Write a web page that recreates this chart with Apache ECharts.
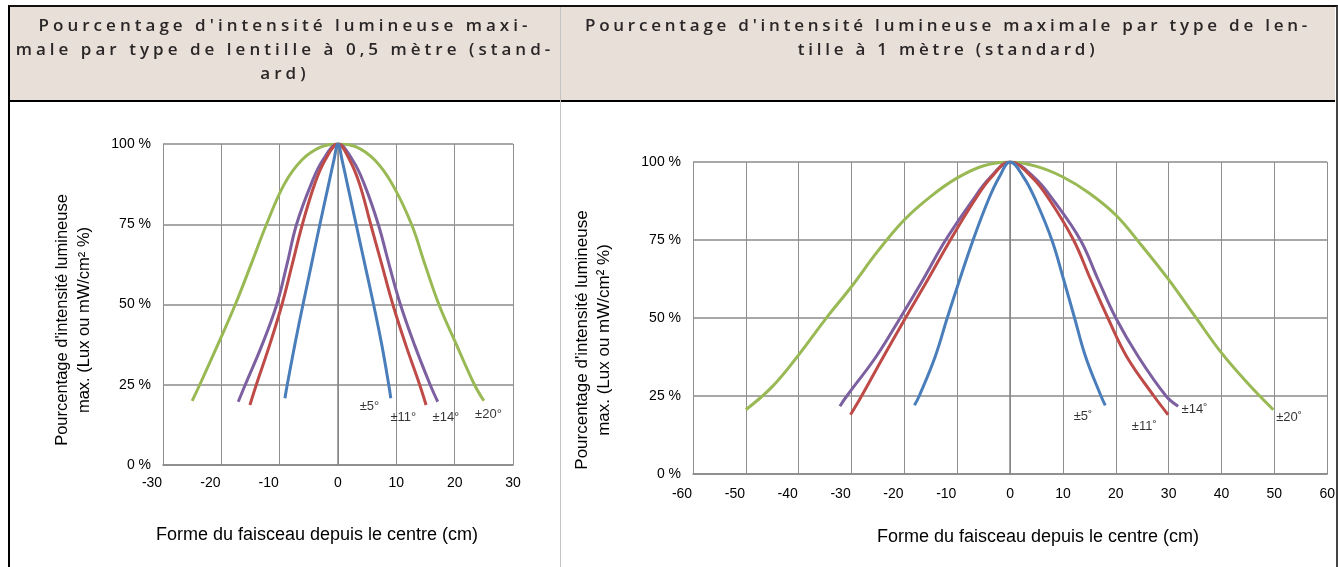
<!DOCTYPE html>
<html>
<head>
<meta charset="utf-8">
<script src="https://cdn.jsdelivr.net/npm/echarts@6/dist/echarts.min.js"></script>
<style>
html,body{margin:0;padding:0;background:#fff;}
body{width:1338px;height:567px;overflow:hidden;position:relative;}
#chart{position:absolute;left:0;top:0;width:1338px;height:567px;}
#frame{position:absolute;left:8px;top:5px;width:1326px;height:570px;border-left:2px solid #000;border-top:2px solid #111;border-right:2px solid #444;box-sizing:content-box;pointer-events:none;}
#head{position:absolute;left:10px;top:7px;width:1325px;height:93px;background:#e7dfd8;border-bottom:2px solid #000;}
#divider{position:absolute;left:560px;top:7px;width:1px;height:560px;background:#c4c4c4;}
.ht{position:absolute;top:13px;text-align:center;font-family:"Open Sans","Noto Sans",sans-serif;font-size:17px;font-weight:600;line-height:24px;color:#2a2627;white-space:nowrap;}
#h1{left:10px;width:550px;}
#h2{left:561px;width:774px;}
</style>
</head>
<body>
<div id="chart"></div>
<div id="head"></div>
<div id="divider"></div>
<div id="frame"></div>
<div class="ht" id="h1"><span class="l" data-w="493">Pourcentage d'intensité lumineuse maxi-</span><br><span class="l">male par type de lentille à 0,5 mètre (stand-</span><br><span class="l">ard)</span></div>
<div class="ht" id="h2"><span class="l" data-w="726">Pourcentage d'intensité lumineuse maximale par type de len-</span><br><span class="l">tille à 1 mètre (standard)</span></div>
<script>
// ---- data ----
const xTicksLeft = { min: -30, max: 30, step: 10 };
const xTicksRight = { min: -60, max: 60, step: 10 };
const yTicks = { min: 0, max: 100, step: 25 };

const seriesNames = ['±5°', '±11°', '±14°', '±20°'];
const seriesNamesRight = ['±5˚', '±11˚', '±14˚', '±20˚'];

// 0,5 m : [distance cm, % intensity]
const half5 = [[-9.1,20.8],[-8.7,25],[-7.4,37.5],[-6.0,50],[-4.55,62.5],[-3.1,75],[-1.6,87.5],[-0.7,95],[0,100],[0.7,95],[1.6,87.5],[3.1,75],[4.6,62.5],[6.1,50],[7.5,37.5],[8.7,25],[9.05,20.8]];
const half11 = [[-15.1,18.7],[-14.0,25],[-11.7,37.5],[-9.6,50],[-7.85,62.5],[-6.1,75],[-4.0,87.5],[-2.2,95],[0,100],[2.0,95],[3.7,87.5],[5.6,75],[7.5,62.5],[9.4,50],[11.6,37.5],[14.0,25],[15.1,18.7]];
const half14 = [[-17.1,19.7],[-15.9,25],[-13.0,37.5],[-10.5,50],[-8.75,62.5],[-7.1,75],[-4.6,87.5],[-2.6,95],[0,100],[2.5,95],[4.5,87.5],[6.9,75],[8.75,62.5],[10.7,50],[13.1,37.5],[15.8,25],[17.1,19.7]];
const half20 = [[-25,20],[-23.7,25],[-20.6,37.5],[-17.6,50],[-14.9,62.5],[-12.25,75],[-9.2,87.5],[-6.2,95],[-3,99],[0,100],[3,99.2],[6.3,95],[9.3,87.5],[12.6,75],[14.9,62.5],[17.3,50],[20.3,37.5],[23.4,25],[25,20]];

// 1 m
const one5 = [[-18.1,22],[-17.2,25],[-14.2,37.5],[-11.9,50],[-9.5,62.5],[-7.0,75],[-4.2,87.5],[-2.1,95],[0,100],[2.6,95],[4.9,87.5],[7.9,75],[10.1,62.5],[12.2,50],[14.3,37.5],[17.2,25],[18.0,22]];
const one11 = [[-30.2,19],[-28.1,25],[-24.0,37.5],[-19.8,50],[-15.5,62.5],[-11.3,75],[-6.8,87.5],[-3.6,95],[0,100],[4.2,95],[7.6,87.5],[12.0,75],[15.2,62.5],[18.5,50],[22.1,37.5],[27.2,25],[29.9,19]];
const one14 = [[-32.2,21.7],[-30.9,25],[-25.4,37.5],[-20.8,50],[-16.4,62.5],[-12.2,75],[-7.2,87.5],[-3.8,95],[0,100],[4.6,95],[8.3,87.5],[13.3,75],[16.6,62.5],[20.0,50],[24.3,37.5],[29.5,25],[31.8,21.7]];
const one20 = [[-50,20.6],[-45,28],[-40,38.2],[-35,49.5],[-30,60.1],[-25,71.5],[-20,81.5],[-15,89],[-10,94.9],[-5,98.8],[0,100],[5,98.6],[10,95.2],[15,90],[20,83],[25,73],[30,62.3],[35,50.5],[40,38.8],[45,29],[49.8,20.6]];

// label anchor points (data coords)
const halfLabels = [[5.4,18.4],[11.2,14.9],[18.5,14.9],[25.8,15.9]];
const oneLabels = [[13.8,18.4],[25.4,15.2],[34.9,20.7],[52.8,18.2]];

const colors = ['#4a7ebb', '#be4b48', '#7d60a0', '#98b954'];

const yTitle = "Pourcentage d'intensité lumineuse\nmax. (Lux ou mW/cm² %)";
const xTitle = "Forme du faisceau depuis le centre (cm)";

// ---- header letter spacing fit ----
function fitHeaders() {
  document.querySelectorAll('.ht').forEach(function (div) {
    div.style.letterSpacing = '0px';
    const first = div.querySelector('span[data-w]');
    const target = +first.dataset.w;
    const w = first.getBoundingClientRect().width;
    const n = first.textContent.length;
    div.style.letterSpacing = ((target - w) / n).toFixed(2) + 'px';
  });
}
fitHeaders();
if (document.fonts && document.fonts.ready) document.fonts.ready.then(fitHeaders);

// ---- chart ----
const font = "'Liberation Sans', Arial, sans-serif";
const chart = echarts.init(document.getElementById('chart'), null, { renderer: 'canvas' });

function xAxis(idx, t, margin, negShift) {
  return {
    gridIndex: idx, type: 'value', min: t.min, max: t.max, interval: t.step,
    axisLine: { show: true, onZero: false, lineStyle: { color: '#868686', width: 1.5 } },
    axisTick: { show: false },
    axisLabel: {
      color: '#000', fontSize: 14, fontFamily: font, margin: margin,
      formatter: function (v) { return v < 0 ? '{n|' + v + '}' : '{p|' + v + '}'; },
      rich: {
        n: { fontSize: 14, fontFamily: font, color: '#000', padding: [0, negShift * 2, 0, 0] },
        p: { fontSize: 14, fontFamily: font, color: '#000' }
      }
    },
    splitLine: { show: true, lineStyle: { color: '#8f8f8f', width: 1 } }
  };
}
function yAxis(idx) {
  return {
    gridIndex: idx, type: 'value', min: yTicks.min, max: yTicks.max, interval: yTicks.step,
    axisLine: { show: true, lineStyle: { color: '#868686', width: 1.5 } },
    axisTick: { show: false },
    axisLabel: { color: '#000', fontSize: 14, fontFamily: font, margin: 12, formatter: '{value} %' },
    splitLine: { show: true, lineStyle: { color: '#a8a8a8', width: 2 } }
  };
}
function curve(data, i, gi) {
  return {
    type: 'line', xAxisIndex: gi, yAxisIndex: gi, data: data, smooth: 0.4,
    symbol: 'none', lineStyle: { color: colors[i], width: 3 }, z: 3 + (i === 0 ? 1 : 0)
  };
}
function labelSeries(points, names, gi) {
  return {
    type: 'scatter', xAxisIndex: gi, yAxisIndex: gi, symbolSize: 1, itemStyle: { color: 'rgba(0,0,0,0)' },
    silent: true, z: 5,
    data: points.map(function (p, i) { return { name: names[i], value: p }; }),
    label: { show: true, position: 'inside', formatter: '{b}', color: '#000', fontSize: 13, fontFamily: font }
  };
}

const option = {
  animation: false,
  backgroundColor: '#fff',
  grid: [
    { left: 163, right: 1338 - 513, top: 144, bottom: 567 - 465 },
    { left: 693, right: 1338 - 1328, top: 162, bottom: 567 - 474 }
  ],
  xAxis: [xAxis(0, xTicksLeft, 11, 11), xAxis(1, xTicksRight, 13, 11)],
  yAxis: [yAxis(0), yAxis(1)],
  series: [
    curve(half20, 3, 0), curve(half14, 2, 0), curve(half11, 1, 0), curve(half5, 0, 0),
    curve(one20, 3, 1), curve(one14, 2, 1), curve(one11, 1, 1), curve(one5, 0, 1),
    labelSeries(halfLabels, seriesNames, 0),
    labelSeries(oneLabels, seriesNamesRight, 1)
  ],
  graphic: [
    { type: 'text', x: 73, y: 320, rotation: Math.PI / 2,
      style: { text: yTitle, align: 'center', verticalAlign: 'middle', font: '16.5px ' + font, fill: '#000', lineHeight: 22 } },
    { type: 'text', x: 593, y: 340, rotation: Math.PI / 2,
      style: { text: yTitle, align: 'center', verticalAlign: 'middle', font: '17px ' + font, fill: '#000', lineHeight: 22 } },
    { type: 'text', x: 317, y: 535,
      style: { text: xTitle, align: 'center', verticalAlign: 'middle', font: '18px ' + font, fill: '#000' } },
    { type: 'text', x: 1038, y: 537,
      style: { text: xTitle, align: 'center', verticalAlign: 'middle', font: '18px ' + font, fill: '#000' } }
  ]
};
chart.setOption(option);
</script>
</body>
</html>
